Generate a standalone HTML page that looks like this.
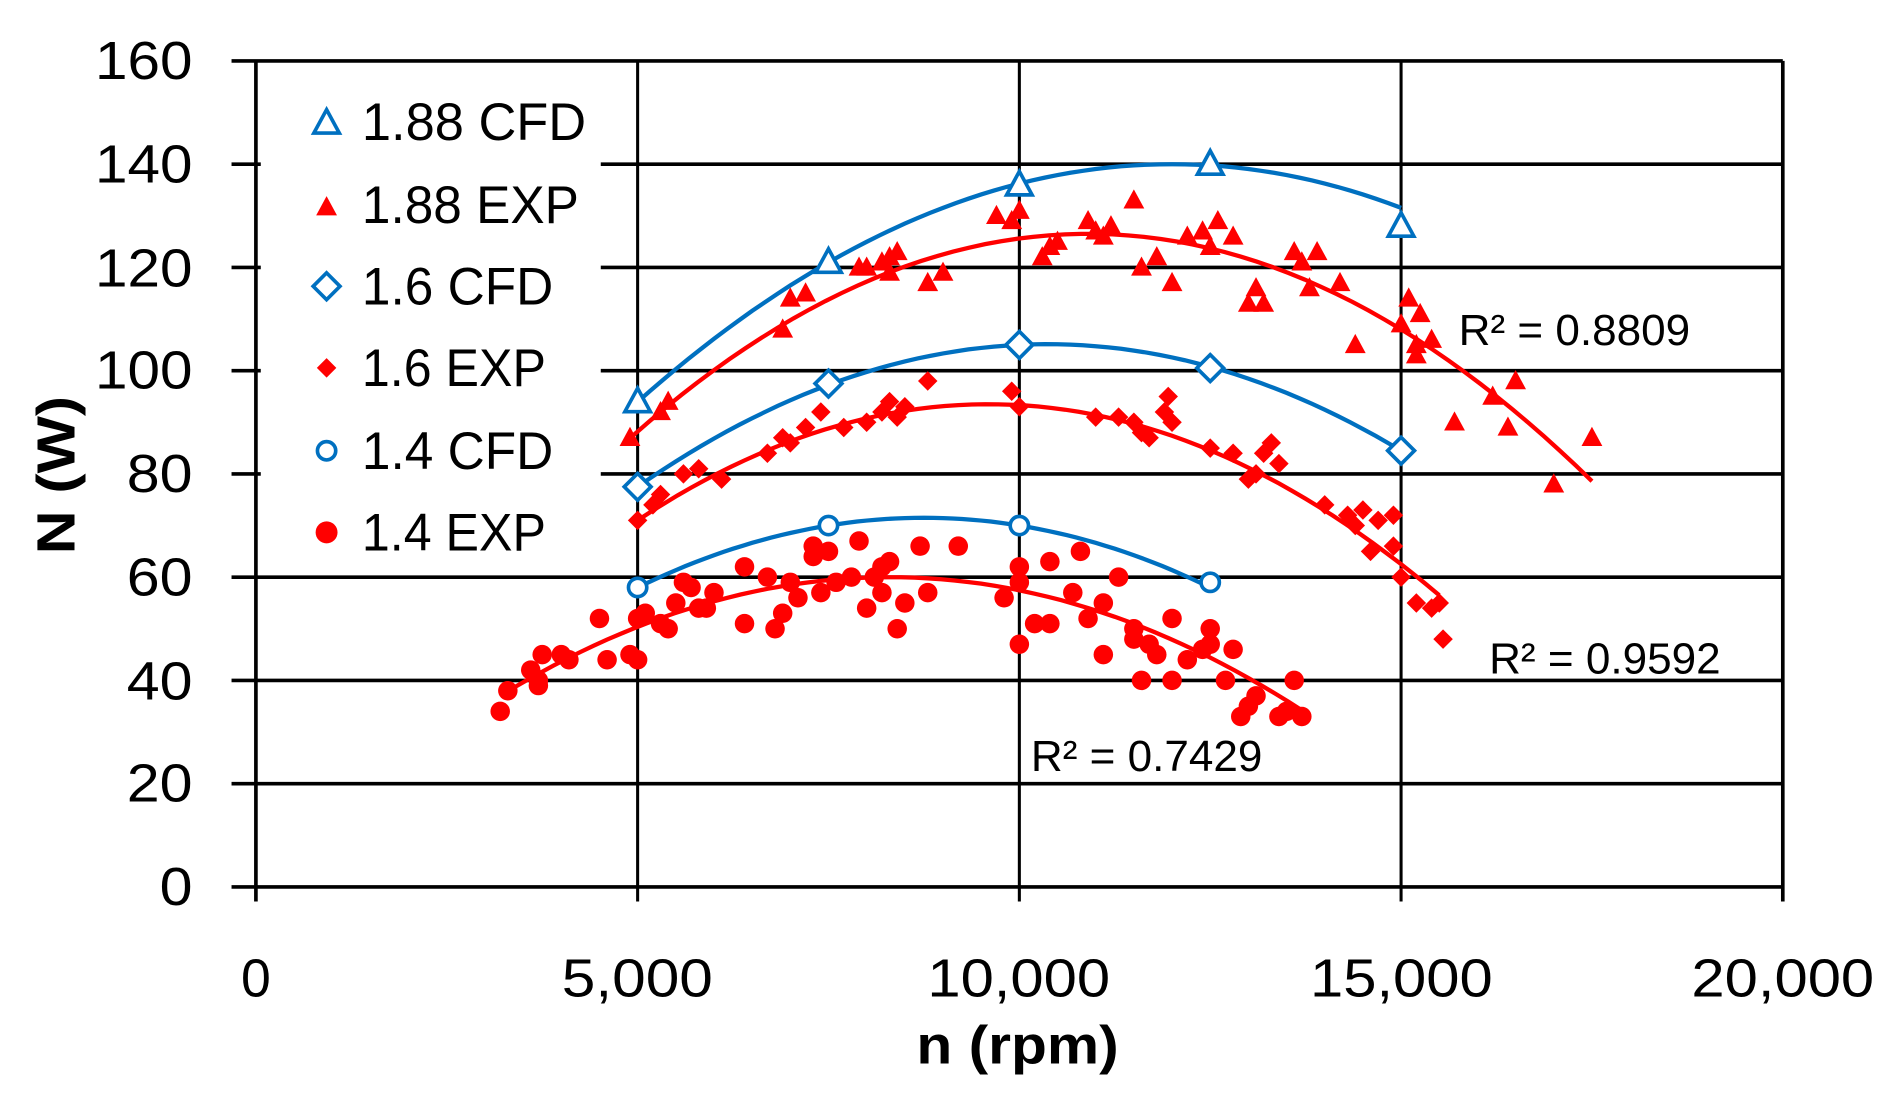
<!DOCTYPE html>
<html><head><meta charset="utf-8"><style>
html,body{margin:0;padding:0;background:#fff;}
svg{display:block;}
text{font-family:"Liberation Sans",sans-serif;fill:#000;}
</style></head><body>
<svg id="s" width="1901" height="1094" viewBox="0 0 1560 898" preserveAspectRatio="none" xmlns="http://www.w3.org/2000/svg">
<g id="grid" stroke="#000" stroke-width="3"></g>
<rect x="214" y="62" width="279" height="400" fill="#fff"/>
<g id="data"></g>
<g font-size="44" lengthAdjust="spacingAndGlyphs">
<text x="158" y="65" text-anchor="end" textLength="80" lengthAdjust="spacingAndGlyphs">160</text>
<text x="158" y="150" text-anchor="end" textLength="80" lengthAdjust="spacingAndGlyphs">140</text>
<text x="158" y="235" text-anchor="end" textLength="80" lengthAdjust="spacingAndGlyphs">120</text>
<text x="158" y="319" text-anchor="end" textLength="80" lengthAdjust="spacingAndGlyphs">100</text>
<text x="158" y="404" text-anchor="end" textLength="54" lengthAdjust="spacingAndGlyphs">80</text>
<text x="158" y="489" text-anchor="end" textLength="54" lengthAdjust="spacingAndGlyphs">60</text>
<text x="158" y="574" text-anchor="end" textLength="54" lengthAdjust="spacingAndGlyphs">40</text>
<text x="158" y="658" text-anchor="end" textLength="54" lengthAdjust="spacingAndGlyphs">20</text>
<text x="158" y="743" text-anchor="end" textLength="27" lengthAdjust="spacingAndGlyphs">0</text>
<text x="210" y="818" text-anchor="middle">0</text>
<text x="523" y="818" text-anchor="middle" textLength="124" lengthAdjust="spacingAndGlyphs">5,000</text>
<text x="836" y="818" text-anchor="middle" textLength="150" lengthAdjust="spacingAndGlyphs">10,000</text>
<text x="1150" y="818" text-anchor="middle" textLength="150" lengthAdjust="spacingAndGlyphs">15,000</text>
<text x="1463" y="818" text-anchor="middle" textLength="150" lengthAdjust="spacingAndGlyphs">20,000</text>
</g>
<g font-size="43">
<text x="297" y="115" textLength="184" lengthAdjust="spacingAndGlyphs">1.88 CFD</text>
<text x="297" y="183" textLength="178" lengthAdjust="spacingAndGlyphs">1.88 EXP</text>
<text x="297" y="250" textLength="157" lengthAdjust="spacingAndGlyphs">1.6 CFD</text>
<text x="297" y="317" textLength="151" lengthAdjust="spacingAndGlyphs">1.6 EXP</text>
<text x="297" y="385" textLength="157" lengthAdjust="spacingAndGlyphs">1.4 CFD</text>
<text x="297" y="452" textLength="151" lengthAdjust="spacingAndGlyphs">1.4 EXP</text>
</g>
<g font-size="36">
<text x="1197" y="283" textLength="190" lengthAdjust="spacingAndGlyphs">R² = 0.8809</text>
<text x="1222" y="553" textLength="190" lengthAdjust="spacingAndGlyphs">R² = 0.9592</text>
<text x="846" y="633" textLength="190" lengthAdjust="spacingAndGlyphs">R² = 0.7429</text>
</g>
<text x="835" y="873" text-anchor="middle" font-size="44" font-weight="bold" textLength="166" lengthAdjust="spacingAndGlyphs">n (rpm)</text>
<text transform="translate(61,390) rotate(-90)" text-anchor="middle" font-size="44" font-weight="bold" textLength="130" lengthAdjust="spacingAndGlyphs">N (W)</text>
</svg>
<script>
var NS="http://www.w3.org/2000/svg";
function X(n){return 210+n*62.65;}
function Y(v){return 728-v*4.2375;}
var g=document.getElementById('grid'),d=document.getElementById('data');
function el(p,t,a){var e=document.createElementNS(NS,t);for(var k in a)e.setAttribute(k,a[k]);p.appendChild(e);return e;}
for(var v=0;v<=160;v+=20){el(g,'line',{x1:190,x2:1463,y1:Y(v),y2:Y(v)});}
for(var n=0;n<=20;n+=5){el(g,'line',{x1:X(n),x2:X(n),y1:Y(160),y2:Y(0)+12,'stroke-width':n==0||n==20?3:2.5});}
function curve(f,a,b,col){var p='';for(var i=0;i<=60;i++){var n=a+(b-a)*i/60;p+=(i?'L':'M')+X(n).toFixed(1)+','+Y(f(n)).toFixed(1);}el(d,'path',{d:p,fill:'none',stroke:col,'stroke-width':3.5});}
var red='#ff0000',blue='#0070c0';
function tri(x,y,s,fill,st){return el(d,'path',{d:'M'+x+','+(y-s)+'L'+(x+s*0.95)+','+(y+s*0.75)+'L'+(x-s*0.95)+','+(y+s*0.75)+'Z',fill:fill,stroke:st||'none','stroke-width':3});}
function dia(x,y,s,fill,st){return el(d,'path',{d:'M'+x+','+(y-s)+'L'+(x+s)+','+y+'L'+x+','+(y+s)+'L'+(x-s)+','+y+'Z',fill:fill,stroke:st||'none','stroke-width':3});}
function cir(x,y,r,fill,st){return el(d,'circle',{cx:x,cy:y,r:r,fill:fill,stroke:st||'none','stroke-width':3});}
var e188=[[4.9,87],[5.3,92],[5.4,94],[6.9,108],[7.0,114],[7.2,115],[7.9,120],[8.0,120],[8.2,121],[8.3,122],[8.4,123],[8.3,119],[8.8,117],[9.0,119],[9.7,130],[9.9,129],[10.0,131],[10.3,122],[10.4,124],[10.5,125],[10.9,129],[11.0,127],[11.2,128],[11.1,126],[11.5,133],[11.6,120],[11.8,122],[12.0,117],[12.2,126],[12.4,127],[12.5,124],[12.6,129],[12.8,126],[13.0,113],[13.1,116],[13.2,113],[13.6,123],[13.7,121],[13.8,116],[13.9,123],[14.2,117],[14.4,105],[15.0,109],[15.1,114],[15.2,105],[15.25,111],[15.2,103],[15.4,106],[15.7,90],[16.2,95],[16.4,89],[16.5,98],[17.0,78],[17.5,87]];
var e16=[[5.0,71],[5.2,74],[5.3,76],[5.6,80],[5.8,81],[6.1,79],[6.7,84],[6.9,87],[7.0,86],[7.2,89],[7.4,92],[7.7,89],[8.0,90],[8.2,92],[8.3,94],[8.5,93],[8.4,91],[8.8,98],[9.9,96],[10.0,93],[11.0,91],[11.3,91],[11.5,90],[11.6,88],[11.7,87],[11.9,92],[12.0,90],[11.95,95],[12.5,85],[12.8,84],[13.0,79],[13.1,80],[13.2,84],[13.3,86],[13.4,82],[14.0,74],[14.3,72],[14.4,70],[14.5,73],[14.6,65],[14.7,71],[14.9,66],[14.9,72],[15.0,60],[15.2,55],[15.4,54],[15.5,55],[15.55,48]];
var e14=[[3.2,34],[3.3,38],[3.6,42],[3.7,40],[3.75,45],[3.7,39],[4.0,45],[4.1,44],[4.5,52],[4.6,44],[4.9,45],[5.0,52],[5.0,44],[5.1,53],[5.3,51],[5.4,50],[5.5,55],[5.6,59],[5.7,58],[5.8,54],[5.9,54],[6.0,57],[6.4,51],[6.4,62],[6.7,60],[6.8,50],[6.9,53],[7.0,59],[7.1,56],[7.3,64],[7.3,66],[7.4,57],[7.5,65],[7.6,59],[7.8,60],[7.9,67],[8.0,54],[8.1,60],[8.2,62],[8.2,57],[8.3,63],[8.4,50],[8.5,55],[8.8,57],[8.7,66],[9.2,66],[9.8,56],[10.0,59],[10.0,62],[10.0,47],[10.2,51],[10.4,51],[10.4,63],[10.7,57],[10.8,65],[10.9,52],[11.1,55],[11.1,45],[11.3,60],[11.5,50],[11.5,48],[11.6,40],[11.7,47],[11.8,45],[12.0,52],[12.0,40],[12.2,44],[12.4,46],[12.5,50],[12.5,47],[12.7,40],[12.8,46],[12.9,33],[13.0,35],[13.1,37],[13.4,33],[13.5,34],[13.6,40],[13.7,33]];
e188.forEach(function(p){tri(X(p[0]),Y(p[1]),9,red);});
e16.forEach(function(p){dia(X(p[0]),Y(p[1]),8,red);});
e14.forEach(function(p){cir(X(p[0]),Y(p[1]),8,red);});
curve(function(n){return 126.5-1.1*(n-10.9)*(n-10.9);},4.95,17.5,red);
curve(function(n){return 93.5-1.063*(n-9.6)*(n-9.6);},5.0,15.5,red);
curve(function(n){return 60-0.884*(n-8.3)*(n-8.3);},3.2,13.7,red);
curve(function(n){return 140-0.94*(n-12)*(n-12);},5,15,blue);
curve(function(n){return 2+19.9*n-0.96*n*n;},5,15,blue);
curve(function(n){return 71.5-0.96*(n-8.75)*(n-8.75);},5,12.5,blue);
[[5,94],[7.5,121],[10,136],[12.5,140],[15,128]].forEach(function(p){tri(X(p[0]),Y(p[1]),11,'#fff',blue);});
[[5,77.5],[7.5,97.5],[10,105],[12.5,100.5],[15,84.5]].forEach(function(p){dia(X(p[0]),Y(p[1]),11,'#fff',blue);});
[[5,58],[7.5,70],[10,70],[12.5,59]].forEach(function(p){cir(X(p[0]),Y(p[1]),7.5,'#fff',blue);});
tri(268,101,11,'#fff',blue);tri(268,170,9,red);dia(268,235,11,'#fff',blue);dia(268,302,8,red);cir(268,370,7.5,'#fff',blue);cir(268,437,9,red);
</script>
</body></html>
